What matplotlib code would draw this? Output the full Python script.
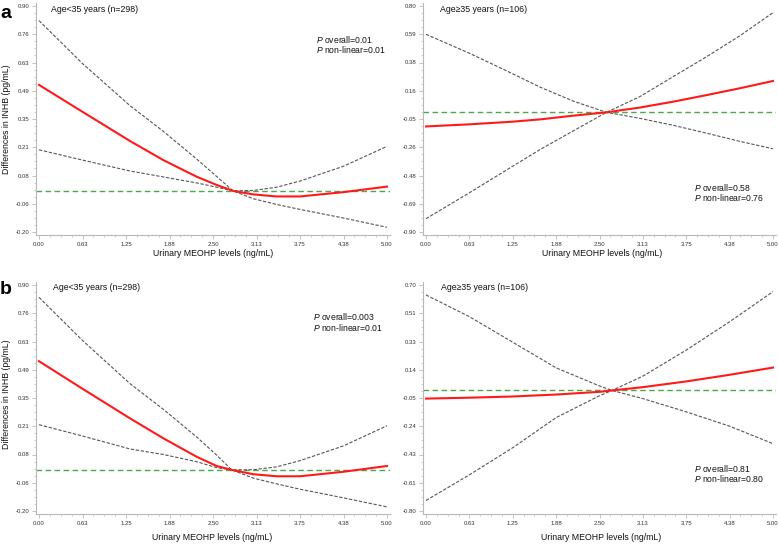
import matplotlib
matplotlib.use("Agg")
import matplotlib.pyplot as plt
from matplotlib.ticker import FixedLocator, AutoMinorLocator
import numpy as np

plt.rcParams['font.family'] = ['Liberation Sans', 'DejaVu Sans']
plt.rcParams['mathtext.fontset'] = 'custom'
plt.rcParams['mathtext.it'] = 'Liberation Sans:italic'
plt.rcParams['mathtext.rm'] = 'Liberation Sans'

W, H = 778, 545

# ---------------- data ----------------
x_ticks = [0.0, 0.625, 1.25, 1.875, 2.5, 3.125, 3.75, 4.375, 5.0]
x_ticklabels = ["0.00", "0.63", "1.25", "1.88", "2.50", "3.13", "3.75", "4.38", "5.00"]

# panel a, age < 35
a1_x = [0.0, 0.625, 1.307, 1.786, 2.266, 2.553, 2.79, 3.08, 3.415, 3.75, 4.375, 5.0]
a1_est = [0.516, 0.385, 0.243, 0.150, 0.069, 0.029, 0.0, -0.017, -0.027, -0.027, -0.006, 0.021]
a1_ci1 = [0.829, 0.620, 0.415, 0.290, 0.155, 0.070, 0.0, -0.038, -0.066, -0.090, -0.132, -0.177]
a1_ci2 = [0.200, 0.150, 0.097, 0.068, 0.039, 0.018, 0.0, 0.002, 0.018, 0.048, 0.120, 0.217]
a1_yticks = ["0.90", "0.76", "0.63", "0.49", "0.35", "0.21", "0.08", "-0.06", "-0.20"]
a1_ylim = (-0.20, 0.90)

# panel a, age >= 35
a2_x = [0.0, 0.625, 1.25, 1.643, 2.12, 2.6, 3.08, 3.56, 4.045, 4.52, 5.0]
a2_est = [-0.106, -0.090, -0.070, -0.053, -0.025, 0.0, 0.036, 0.080, 0.130, 0.181, 0.236]
a2_ci1 = [0.587, 0.445, 0.290, 0.190, 0.085, 0.0, -0.045, -0.097, -0.157, -0.218, -0.274]
a2_ci2 = [-0.800, -0.605, -0.405, -0.280, -0.140, 0.0, 0.118, 0.268, 0.419, 0.575, 0.750]
a2_yticks = ["0.80", "0.59", "0.38", "0.16", "-0.05", "-0.26", "-0.48", "-0.69", "-0.90"]
a2_ylim = (-0.90, 0.80)

# panel b, age < 35
b1_x = [0.0, 0.625, 1.307, 1.786, 2.266, 2.553, 2.77, 3.08, 3.415, 3.75, 4.375, 5.0]
b1_est = [0.529, 0.395, 0.251, 0.154, 0.064, 0.019, 0.0, -0.021, -0.031, -0.031, -0.009, 0.019]
b1_ci1 = [0.840, 0.630, 0.420, 0.295, 0.160, 0.072, 0.0, -0.040, -0.068, -0.094, -0.136, -0.180]
b1_ci2 = [0.220, 0.165, 0.102, 0.075, 0.040, 0.011, 0.0, 0.001, 0.015, 0.045, 0.117, 0.215]
b1_yticks = ["0.90", "0.76", "0.63", "0.49", "0.35", "0.21", "0.08", "-0.06", "-0.20"]
b1_ylim = (-0.20, 0.90)

# panel b, age >= 35
b2_x = [0.0, 0.625, 1.25, 1.875, 2.5, 2.68, 3.125, 3.75, 4.375, 5.0]
b2_est = [-0.054, -0.048, -0.040, -0.027, -0.009, 0.0, 0.022, 0.060, 0.104, 0.152]
b2_ci1 = [0.634, 0.490, 0.320, 0.150, 0.030, 0.0, -0.054, -0.142, -0.237, -0.353]
b2_ci2 = [-0.730, -0.560, -0.380, -0.180, -0.035, 0.0, 0.095, 0.268, 0.456, 0.656]
b2_yticks = ["0.70", "0.51", "0.33", "0.14", "-0.05", "-0.24", "-0.43", "-0.61", "-0.80"]
b2_ylim = (-0.80, 0.70)

titles = ["Age<35 years (n=298)", "Age\u226535 years (n=106)",
          "Age<35 years (n=298)", "Age\u226535 years (n=106)"]
p_overall = ["0.01", "0.58", "0.003", "0.81"]
p_nonlin = ["0.01", "0.76", "0.01", "0.80"]
xlabel = "Urinary MEOHP levels (ng/mL)"
ylabel = "Differences in INHB (pg/mL)"

panels = [
    (a1_x, a1_est, a1_ci1, a1_ci2, a1_yticks, a1_ylim),
    (a2_x, a2_est, a2_ci1, a2_ci2, a2_yticks, a2_ylim),
    (b1_x, b1_est, b1_ci1, b1_ci2, b1_yticks, b1_ylim),
    (b2_x, b2_est, b2_ci1, b2_ci2, b2_yticks, b2_ylim),
]

# pixel boxes (left, top, right, bottom) of the plotting area (data extents)
boxes = [(39, 6, 387, 232), (426, 6, 773, 232),
         (39, 285, 387, 511), (426, 285, 773, 511)]
p_pos = [(316, 39), (694, 187), (313, 317), (694, 468)]
title_pos = [(51, 10), (440, 10), (53, 288), (441, 288)]
xlabel_pos = [(213, 253), (602, 253), (212, 537), (601, 537)]

fig = plt.figure(figsize=(W / 100, H / 100), dpi=100)
fig.patch.set_facecolor("white")

spine_col = "#b8b8b8"
pad = 3  # px padding between spine and data extent

for i, (xs, est, c1, c2, ytl, ylim) in enumerate(panels):
    l, t, r, b = boxes[i]
    L, T, R, B = l - pad, t - pad, r + pad, b + pad
    ax = fig.add_axes([L / W, 1 - B / H, (R - L) / W, (B - T) / H])
    xscale = 5.0 / (r - l)
    yscale = (ylim[1] - ylim[0]) / (b - t)
    ax.set_xlim(0 - pad * xscale, 5 + pad * xscale)
    ax.set_ylim(ylim[0] - pad * yscale, ylim[1] + pad * yscale)

    ax.axhline(0, color="#4aa84a", lw=1.0, ls=(0, (4, 2.5)), zorder=2)
    ax.plot(xs, c1, color="#555555", lw=0.8, ls=(0, (3, 1.5)), zorder=3)
    ax.plot(xs, c2, color="#555555", lw=0.8, ls=(0, (3, 1.5)), zorder=3)
    ax.plot(xs, est, color="#ff1a1a", lw=1.5, zorder=4, solid_joinstyle="round")

    for s in ["top", "right"]:
        ax.spines[s].set_visible(False)
    for s in ["left", "bottom"]:
        ax.spines[s].set_color(spine_col)
        ax.spines[s].set_linewidth(0.8)

    yt = np.linspace(ylim[1], ylim[0], 9)
    ax.yaxis.set_major_locator(FixedLocator(yt))
    ax.set_yticklabels(ytl)
    ax.xaxis.set_major_locator(FixedLocator(x_ticks))
    ax.set_xticklabels(x_ticklabels)
    ax.xaxis.set_minor_locator(AutoMinorLocator(4))
    ax.yaxis.set_minor_locator(AutoMinorLocator(4))
    ax.tick_params(which="major", length=3, width=0.6, color=spine_col,
                   labelsize=4.3, labelcolor="#333333", pad=2)
    ax.tick_params(which="minor", length=1.5, width=0.5, color=spine_col)

    tx, ty = title_pos[i]
    fig.text(tx / W, 1 - ty / H, titles[i], fontsize=6.3, va="center", ha="left",
             color="#111111")
    px, py = p_pos[i]
    for j, (lab, val) in enumerate([("overall", p_overall[i]), ("non-linear", p_nonlin[i])]):
        fig.text(px / W, 1 - (py + j * 10.5) / H,
                 r"$P$" + " " + lab + "=" + val,
                 fontsize=6.2, va="center", ha="left", color="#111111")
    lx, ly = xlabel_pos[i]
    fig.text(lx / W, 1 - ly / H, xlabel, fontsize=6.3, ha="center", va="center",
             color="#111111")

fig.text(7 / W, 1 - 119 / H, ylabel, fontsize=6.3, rotation=90, ha="center",
         va="center", color="#111111")
fig.text(7 / W, 1 - 394 / H, ylabel, fontsize=6.3, rotation=90, ha="center",
         va="center", color="#111111")

fig.text(0 / W, 1 - 14 / H, "a", fontsize=14, fontweight="bold", ha="left", va="center")
fig.text(0 / W, 1 - 290 / H, "b", fontsize=14, fontweight="bold", ha="left", va="center")

fig.savefig("out.png", dpi=100, facecolor="white")
